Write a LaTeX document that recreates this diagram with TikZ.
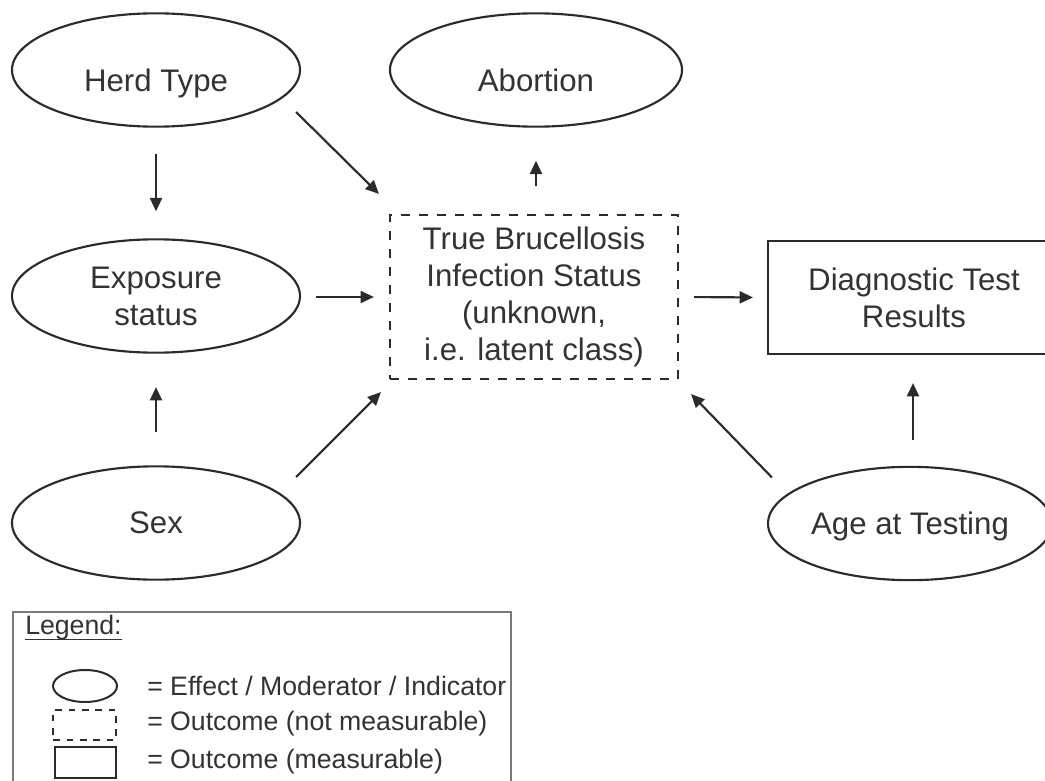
\documentclass[tikz,border=0pt]{standalone}
\usepackage{fontspec}
\setmainfont{Liberation Sans}
\usetikzlibrary{shapes.geometric,arrows.meta}
\definecolor{txt}{HTML}{333333}
\definecolor{ln}{HTML}{2B2B2B}
\definecolor{lgd}{HTML}{7A7A7A}
\begin{document}
\begin{tikzpicture}[x=0.75pt,y=-0.75pt,
  font=\fontsize{23.4pt}{27.75pt}\selectfont, text=txt,
  oval/.style={ellipse, draw=ln, line width=1.6pt, inner sep=0pt, minimum width=216pt, minimum height=85pt, align=center},
  latentbox/.style={rectangle, draw=ln, line width=1.6pt, dash pattern=on 6.75pt off 6.75pt, minimum width=216pt, minimum height=123pt, align=center, inner sep=0pt},
  obsbox/.style={rectangle, draw=ln, line width=1.6pt, minimum width=219pt, minimum height=84.75pt, align=center, inner sep=0pt},
  arr/.style={draw=ln, line width=1.6pt, -{Triangle[length=10pt,width=9pt]}},
  lgtext/.style={font=\fontsize{20pt}{24pt}\selectfont, anchor=west, inner sep=0pt},
  lgicon/.style={draw=ln, line width=1.5pt, inner sep=0pt},
]
\path[use as bounding box] (0,0) rectangle (1045,781);
\clip (0,0) rectangle (1045,781);
\fill[white] (0,0) rectangle (1045,781);

% main nodes
\node[oval, text height=33pt, text depth=0pt] (herd) at (156,70) {Herd Type};
\node[oval, minimum width=219pt, text height=33pt, text depth=0pt] (abort) at (536,70) {Abortion};
\node[oval] (expo) at (156,296) {Exposure\\status};
\node[oval] (sex) at (156,523) {Sex};
\node[oval, minimum width=213pt, text depth=0pt] (age) at (910,523.5) {Age at Testing};
\node[latentbox] (latent) at (534,297) {True Brucellosis\\Infection Status\\(unknown,\\i.e. latent class)};
\node[obsbox] (diag) at (914,297.5) {Diagnostic Test\\Results};

% connectors
\draw[arr, shorten <=19.5pt, shorten >=20.25pt] (herd.south) -- (expo.north);
\draw[arr, shorten <=24.75pt, shorten >=25pt] (sex.north) -- (expo.south);
\draw[arr, shorten <=21pt, shorten >=24.75pt] (abort.south |- latent.north) -- (abort.south);
\draw[arr, shorten <=11.25pt, shorten >=11.25pt] (expo.east |- latent.west) -- (latent.west);
\draw[arr, shorten <=11.25pt, shorten >=10.5pt] (latent.east) -- (diag.west);
\draw[arr, shorten <=19.5pt, shorten >=21pt] ([xshift=-0.75pt]diag.south |- age.north) -- ([xshift=-0.75pt]diag.south);
\draw[arr] ([shift={(-5,42)}]herd.east) -- ([shift={(-10,-20)}]latent.north west);
\draw[arr] ([shift={(-5,-46)}]sex.east) -- ([shift={(-8,12)}]latent.south west);
\draw[arr] ([shift={(5,-46)}]age.west) -- ([shift={(12,14)}]latent.south east);

% legend
\node[draw=lgd, line width=1.3pt, rectangle, minimum width=373.5pt, minimum height=150pt, anchor=north west, inner sep=0pt] (legbox) at (12,611) {};
\node[lgtext, anchor=base west] (leg) at (25,634) {Legend:};
\draw[txt, line width=0.9pt] ([yshift=-4pt]leg.base west) -- ([yshift=-4pt]leg.base east);
\node[lgicon, ellipse, minimum width=48pt, minimum height=24pt] (lgell) at (85,686) {};
\node[lgicon, rectangle, dash pattern=on 5pt off 5pt, minimum width=47pt, minimum height=22.5pt] (lgdash) at (84.5,725) {};
\node[lgicon, rectangle, minimum width=46pt, minimum height=23pt] (lgsolid) at (85.5,762.5) {};
\node[lgtext] (lt1) at (147,686) {= Effect / Moderator / Indicator};
\node[lgtext] (lt2) at (147,724) {= Outcome (not measurable)};
\node[lgtext] (lt3) at (147,762) {= Outcome (measurable)};
\end{tikzpicture}
\end{document}
